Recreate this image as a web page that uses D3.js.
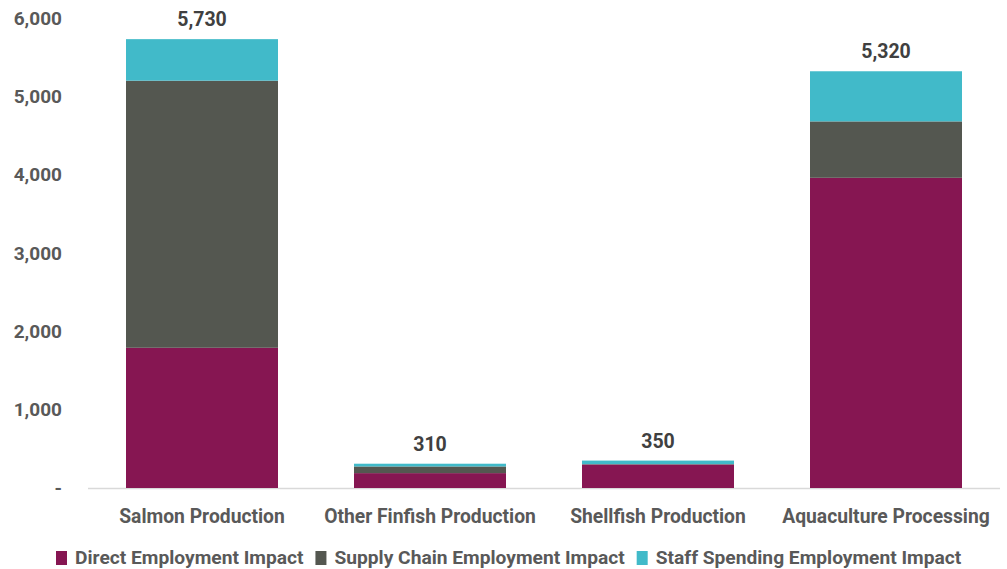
<!DOCTYPE html>
<html>
<head>
<meta charset="utf-8">
<script src="https://cdn.jsdelivr.net/npm/d3@7"></script>
<style>
  body { margin: 0; background: #fff; }
  text { font-family: Roboto, "Noto Sans", sans-serif; }
</style>
</head>
<body>
<div id="chart"></div>
<script>
// カテゴリと系列の値
var categories = ['Salmon Production', 'Other Finfish Production', 'Shellfish Production', 'Aquaculture Processing'];
var seriesNames = ['Direct Employment Impact', 'Supply Chain Employment Impact', 'Staff Spending Employment Impact'];
var direct = [1790, 190, 300, 3960];
var supply = [3410, 85, 5, 720];
var staff = [530, 35, 45, 640];
var totals = [5730, 310, 350, 5320];
var yTicks = [0, 1000, 2000, 3000, 4000, 5000, 6000];

var colors = ['#861652', '#545750', '#41bac9'];

var width = 1007;
var height = 569;
var margin = { top: 18, right: 7, bottom: 81, left: 88 };
var w = width - margin.left - margin.right;
var h = height - margin.top - margin.bottom;

var svg = d3.select('#chart').append('svg')
  .attr('width', width).attr('height', height);

var g = svg.append('g')
  .attr('transform', 'translate(' + margin.left + ',' + margin.top + ')');

var x = d3.scaleBand().domain(categories).range([0, w]).paddingInner(1 / 3).paddingOuter(1 / 6);
var y = d3.scaleLinear().domain([0, 6000]).range([h, 0]);

// 積み上げ用のデータ
var rows = categories.map(function(c, i) {
  return { cat: c, s0: direct[i], s1: supply[i], s2: staff[i] };
});
var stack = d3.stack().keys(['s0', 's1', 's2']);
var layers = stack(rows);

// y軸
var yAxis = d3.axisLeft(y).tickValues(yTicks).tickSize(0).tickPadding(26)
  .tickFormat(function(d) { return d === 0 ? '-' : d3.format(',')(d); });
var ya = g.append('g').call(yAxis);
ya.select('.domain').remove();
ya.selectAll('text')
  .style('font-size', '19px').style('font-weight', 'bold').attr('fill', '#595959');

// ベースライン
g.append('line')
  .attr('x1', 0).attr('x2', w)
  .attr('y1', y(0) + 0.5).attr('y2', y(0) + 0.5)
  .attr('stroke', '#d9d9d9').attr('stroke-width', 1.5);

// 棒
g.selectAll('.layer').data(layers).enter()
  .append('g')
  .attr('fill', function(d, i) { return colors[i]; })
  .selectAll('rect').data(function(d) { return d; }).enter()
  .append('rect')
  .attr('x', function(d) { return x(d.data.cat); })
  .attr('width', x.bandwidth())
  .attr('y', function(d) { return y(d[1]); })
  .attr('height', function(d) { return y(d[0]) - y(d[1]); });

// 合計ラベル
g.selectAll('.total').data(categories).enter()
  .append('text')
  .attr('x', function(d) { return x(d) + x.bandwidth() / 2; })
  .attr('y', function(d, i) { return y(totals[i]) - 13; })
  .attr('text-anchor', 'middle')
  .style('font-size', '19.5px').style('font-weight', 'bold')
  .attr('fill', '#404040')
  .text(function(d, i) { return d3.format(',')(totals[i]); });

// x軸ラベル
var xa = g.append('g').attr('transform', 'translate(0,' + h + ')')
  .call(d3.axisBottom(x).tickSize(0).tickPadding(21));
xa.select('.domain').remove();
xa.selectAll('text')
  .style('font-size', '19.3px').style('font-weight', 'bold').attr('fill', '#595959');

// 凡例
var legend = svg.append('g').attr('transform', 'translate(56,558)');
var lx = 0;
seriesNames.forEach(function(name, i) {
  var item = legend.append('g').attr('transform', 'translate(' + lx + ',0)');
  item.append('rect').attr('x', 0).attr('y', -7).attr('width', 11).attr('height', 14)
    .attr('fill', colors[i]);
  var t = item.append('text').attr('x', 19).attr('y', 6)
    .style('font-size', '19.2px').style('font-weight', 'bold').attr('fill', '#595959')
    .text(name);
  lx += 19 + t.node().getComputedTextLength() + 12;
});
</script>
</body>
</html>
